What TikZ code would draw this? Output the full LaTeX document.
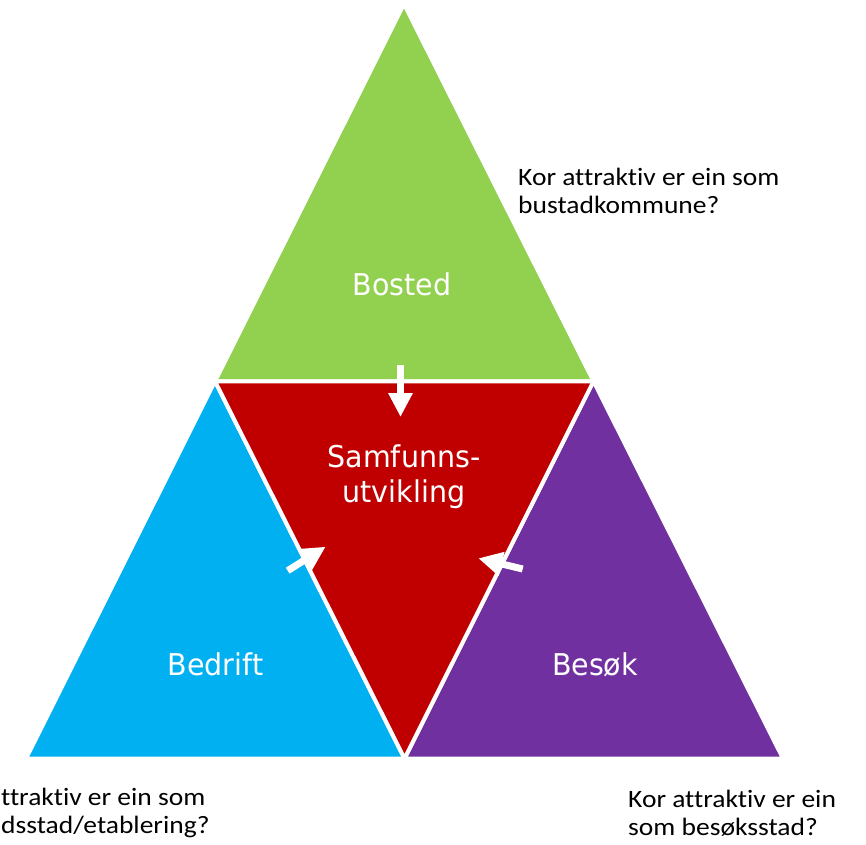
\documentclass[tikz,border=0pt]{standalone}
\usepackage{fontspec}
\setmainfont{Carlito}
\newfontfamily\qfont{Carlito}[FakeStretch=1.1, Ligatures=NoCommon]
\newfontfamily\labfont{DejaVu Sans}[FakeStretch=0.95]
\usetikzlibrary{arrows.meta}
\definecolor{cgreen}{HTML}{92D050}
\definecolor{cred}{HTML}{C00000}
\definecolor{cblue}{HTML}{00B0F0}
\definecolor{cpurple}{HTML}{7030A0}
\tikzset{
  piece/.style={draw=white, line width=4pt, line join=round},
  lab/.style={text=white, inner sep=0pt, font=\labfont\fontsize{30}{35}\selectfont},
  quest/.style={text=black, inner sep=0pt, anchor=base west, font=\qfont\fontsize{25}{28}\selectfont},
  flow/.style={draw=white, line width=7pt, -{Triangle[length=24pt,width=23pt]}}
}
\begin{document}
\begin{tikzpicture}[x=1pt,y=-1pt]
\useasboundingbox[fill=white] (0,0) rectangle (866,844);
% vertices
\coordinate (A) at (404,4);
\coordinate (BL) at (26,758.5);
\coordinate (BR) at (783,758.5);
\coordinate (ML) at (215,381.25);
\coordinate (MR) at (593.5,381.25);
\coordinate (MB) at (404.5,758.5);
% pieces
\fill[cgreen, piece] (A) -- (ML) -- (MR) -- cycle;
\fill[cblue, piece] (ML) -- (BL) -- (MB) -- cycle;
\fill[cpurple, piece] (MR) -- (MB) -- (BR) -- cycle;
\fill[cred, piece] (ML) -- (MR) -- (MB) -- cycle;
% labels
\node[lab, anchor=base] (bosted) at (402,295) {Bosted};
\node[lab, anchor=base] (samf1) at (404,467) {Samfunns-};
\node[lab, anchor=base] (samf2) at (404,502) {utvikling};
\node[lab, anchor=base] (bedrift) at (215.5,675) {Bedrift};
\node[lab, anchor=base] (besok) at (595,675) {Besøk};
% arrows
\coordinate (d0) at (400.5,365);
\coordinate (d1) at (400.5,417);
\coordinate (l0) at (287.7,570.7);
\coordinate (l1) at (325.7,546.7);
\coordinate (r0) at (522.7,569);
\coordinate (r1) at (478.3,558.3);
\draw[flow] (d0) -- (d1);
\draw[flow] (l0) -- (l1);
\draw[flow] (r0) -- (r1);
% questions
\node[quest] (q1a) at (518,185) {Kor attraktiv er ein som};
\node[quest] (q1b) at (518,213) {bustadkommune?};
\node[quest] (q2a) at (1,805) {ttraktiv er ein som};
\node[quest] (q2b) at (1,833) {dsstad/etablering?};
\node[quest] (q3a) at (628,807) {Kor attraktiv er ein};
\node[quest] (q3b) at (628,835) {som besøksstad?};
\end{tikzpicture}
\end{document}
